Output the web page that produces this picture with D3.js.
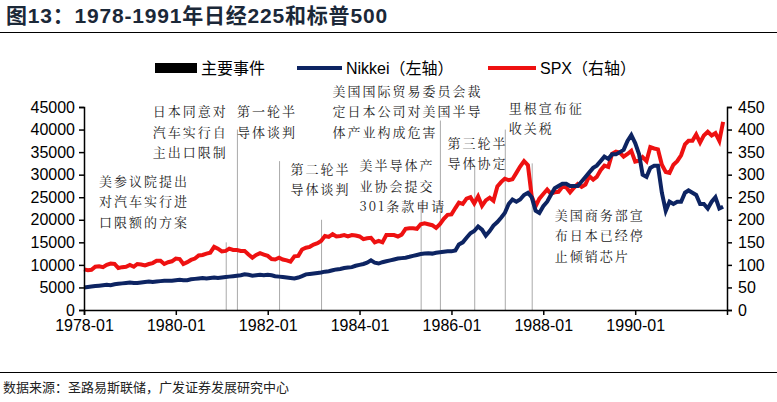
<!DOCTYPE html>
<html><head><meta charset="utf-8">
<script src="https://cdn.jsdelivr.net/npm/d3@7"></script>
<style>body{margin:0;background:#fff}svg{display:block}</style>
</head><body>
<svg id="chart" width="777" height="402"></svg>
<script>
// monthly closes, Jan 1978 .. Dec 1991
const years = d3.range(1978, 1992);
const nikkei = [
  5000,5100,5200,5300,5400,5500,5600,5500,5700,5800,5900,6000,
  6100,6000,6000,6100,6200,6300,6200,6300,6400,6500,6500,6500,
  6600,6700,6600,6600,6800,6900,7000,7100,7000,7100,7200,7100,
  7200,7300,7400,7500,7600,7700,7900,7800,7600,7700,7800,7700,
  7800,7700,7500,7400,7300,7200,7100,7000,7200,7500,7900,8000,
  8100,8200,8300,8500,8600,8800,9000,9100,9300,9400,9500,9800,
  10000,10200,10500,11000,10500,10300,10600,10800,11000,11200,11400,11500,
  11600,11800,12000,12200,12400,12500,12600,12500,12700,12800,12900,13000,
  13000,13200,14500,15000,16000,17000,17500,18500,17800,16500,17500,18700,
  19500,20500,21500,23500,24500,24000,24500,25500,26000,25000,22000,21500,
  23000,24000,25500,27000,27500,28000,28000,27500,27500,27500,28500,29500,
  30500,31500,32000,33000,34000,33500,34500,34500,35000,35500,37500,38800,
  37000,34500,30000,29500,31500,32000,32000,26000,22000,24000,23500,24000,
  24000,26000,26500,26000,25500,23500,23500,22500,24000,25000,22500,22900
];
const spx = [
  90,88,89,96,97,95,100,103,102,93,95,96,
  100,96,102,101,99,102,104,109,109,102,106,108,
  114,113,102,106,111,114,121,122,125,127,140,136,
  130,131,136,133,133,131,131,123,116,122,126,123,
  120,113,112,116,112,110,107,119,120,134,138,140,
  145,148,153,164,162,168,163,164,166,163,166,165,
  163,157,159,160,150,153,150,166,166,166,163,167,
  180,181,181,180,190,192,190,188,182,190,202,211,
  212,226,238,235,247,250,236,252,231,243,249,242,
  274,284,291,288,290,304,318,330,321,252,230,247,
  257,267,258,261,262,273,272,261,271,279,273,278,
  297,289,295,310,320,317,346,351,349,340,346,353,
  329,331,339,330,361,358,356,322,306,304,322,330,
  343,367,375,375,389,371,387,395,387,392,375,417
];
const months = years.flatMap(y => d3.range(12).map(m => new Date(y, m, 1)));

// event markers: date, top of line on the left axis
const eventDates = ["1981-02","1981-05","1982-04","1983-03","1985-05","1985-10","1986-07","1987-03","1987-10"];
const eventTops = [15000,40000,33000,20000,24000,42000,32000,40000,32500];

// annotation text blocks: anchor date, left-axis value of first line baseline
const notes = [
  {d:"1978-05", v:27500, lines:["美参议院提出","对汽车实行进","口限额的方案"]},
  {d:"1979-07", v:43000, lines:["日本同意对","汽车实行自","主出口限制"]},
  {d:"1981-05", v:43000, lines:["第一轮半","导体谈判"]},
  {d:"1982-07", v:30200, lines:["第二轮半","导体谈判"]},
  {d:"1984-01", v:31000, lines:["美半导体产","业协会提交","301条款申请"]},
  {d:"1983-06", v:47500, lines:["美国国际贸易委员会裁","定日本公司对美国半导","体产业构成危害"]},
  {d:"1985-12", v:36000, lines:["第三轮半","导体协定"]},
  {d:"1987-04", v:43700, lines:["里根宣布征","收关税"]},
  {d:"1988-04", v:20000, lines:["美国商务部宣","布日本已经停","止倾销芯片"]}
];

const leftTicks = d3.range(0, 45001, 5000);
const rightTicks = d3.range(0, 451, 50);
const xTicks = ["1978-01","1980-01","1982-01","1984-01","1986-01","1988-01","1990-01"];

const parse = d3.timeParse("%Y-%m");
const svg = d3.select("#chart");
const margin = {left: 84, right: 50, top: 107, bottom: 92};
const W = 777, H = 402;

const x = d3.scaleTime().domain([new Date(1978,0,1), new Date(1992,0,1)]).range([margin.left, W - margin.right]);
const yL = d3.scaleLinear().domain([0, 45000]).range([H - margin.bottom, margin.top]);
const yR = d3.scaleLinear().domain([0, 450]).range([H - margin.bottom, margin.top]);

// title
svg.append("text").attr("x", 6).attr("y", 23).text("图13：1978-1991年日经225和标普500")
  .style("font-family", "Arial, 'Noto Sans CJK SC'").style("font-weight", "bold")
  .style("font-size", "21px").style("letter-spacing", "0.8px").attr("fill", "#1b2838");
svg.append("line").attr("x1", 0).attr("x2", W).attr("y1", 32.5).attr("y2", 32.5).attr("stroke", "#000");
svg.append("line").attr("x1", 0).attr("x2", W).attr("y1", 372.5).attr("y2", 372.5).attr("stroke", "#000");
svg.append("text").attr("x", 3).attr("y", 392).text("数据来源：圣路易斯联储，广发证券发展研究中心")
  .style("font-family", "'Noto Sans CJK SC'").style("font-size", "13px").attr("fill", "#222");

// event lines
svg.append("g").selectAll("line").data(eventDates).join("line")
  .attr("x1", d => x(parse(d)) + .5).attr("x2", d => x(parse(d)) + .5)
  .attr("y1", yL(0)).attr("y2", (d, i) => yL(eventTops[i]))
  .attr("stroke", "#aaa").attr("stroke-width", 1);

// series
const lineL = d3.line().x((d, i) => x(months[i])).y(d => yL(d));
const lineR = d3.line().x((d, i) => x(months[i])).y(d => yR(d));
svg.append("path").datum(spx).attr("d", lineR).attr("fill", "none").attr("stroke", "#ee1111").attr("stroke-width", 4);
svg.append("path").datum(nikkei).attr("d", lineL).attr("fill", "none").attr("stroke", "#0d2462").attr("stroke-width", 4);

// axes
const axFont = g => g.selectAll("text").style("font-family", "Arial, 'Liberation Sans'").style("font-size", "16px").attr("fill", "#000");
svg.append("g").attr("transform", `translate(${margin.left},0)`)
  .call(d3.axisLeft(yL).tickValues(leftTicks).tickSize(5).tickPadding(4).tickFormat(d3.format("d")))
  .call(axFont).call(g => g.selectAll("line,path").attr("stroke", "#000").attr("stroke-width", 1.5));
svg.append("g").attr("transform", `translate(${W - margin.right},0)`)
  .call(d3.axisRight(yR).tickValues(rightTicks).tickSize(5).tickPadding(6))
  .call(axFont).call(g => g.selectAll("line,path").attr("stroke", "#000").attr("stroke-width", 1.5));
svg.append("g").attr("transform", `translate(0,${H - margin.bottom})`)
  .call(d3.axisBottom(x).tickValues(xTicks.map(parse)).tickSize(5).tickPadding(5).tickFormat(d3.timeFormat("%Y-%m")))
  .call(axFont).call(g => g.selectAll("line,path").attr("stroke", "#000").attr("stroke-width", 1.5));

// annotations
notes.forEach(n => {
  const t = svg.append("text").attr("x", x(parse(n.d))).attr("y", yL(n.v))
    .style("font-family", "'Noto Serif CJK SC','Noto Sans CJK SC'").style("font-size", "13px")
    .style("letter-spacing", "2px").attr("fill", "#222");
  n.lines.forEach((l, i) => t.append("tspan").attr("x", x(parse(n.d))).attr("dy", i ? 20.5 : 0).text(l));
});

// legend
const lg = svg.append("g").style("font-size", "16px");
const legend = [
  {label: "主要事件", color: "#000", x: 155, w: 42, sw: 10},
  {label: "Nikkei（左轴）", color: "#0d2462", x: 297, w: 45, sw: 4},
  {label: "SPX（右轴）", color: "#ee1111", x: 488, w: 48, sw: 4}
];
legend.forEach(l => {
  lg.append("line").attr("x1", l.x).attr("x2", l.x + l.w).attr("y1", 68).attr("y2", 68)
    .attr("stroke", l.color).attr("stroke-width", l.sw);
  lg.append("text").attr("x", l.x + l.w + 4).attr("y", 74).text(l.label)
    .style("font-family", "Arial, 'Noto Sans CJK SC'").attr("fill", "#000");
});
</script>
</body></html>
